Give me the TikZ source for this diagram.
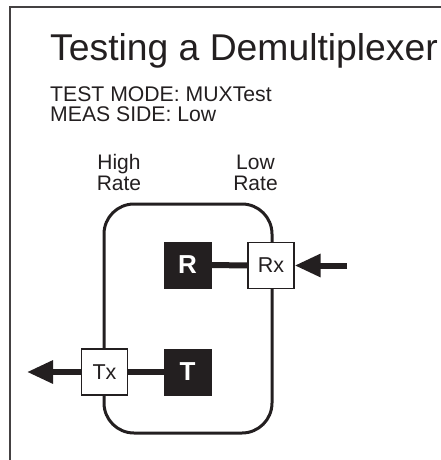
\documentclass[tikz,border=0pt]{standalone}
\usepackage{fontspec}
\setmainfont{Liberation Sans}
\usetikzlibrary{arrows.meta}
\definecolor{ink}{HTML}{231F20}
\tikzset{
  fs/.style={font=\fontsize{#1}{#1}\selectfont},
  label text/.style={text=ink, inner sep=0pt, anchor=base west},
  rate text/.style={text=ink, inner sep=0pt, anchor=base, font=\fontsize{21}{21}\selectfont},
  darkbox/.style={draw=ink, fill=ink, text=white, minimum width=47pt, minimum height=46pt,
                  inner sep=0pt, font=\fontsize{26}{26}\selectfont\bfseries},
  portbox/.style={draw=ink, fill=white, text=ink, line width=1.3pt, minimum width=46pt,
                  minimum height=46pt, inner sep=0pt, font=\fontsize{21.5}{21.5}\selectfont},
  wire/.style={draw=ink, line width=6pt},
  sigarrow/.style={draw=ink, line width=6pt, -{Triangle[length=26pt,width=22pt]}},
}
\begin{document}
\begin{tikzpicture}[x=1pt, y=-1pt]
  \useasboundingbox (0,0) rectangle (441,460);
  % frame on the top and left sides
  \draw[ink!85, line width=2pt] (10,460) -- (10,7) -- (441,7);

  % headings
  \node[label text, fs=37.3] (title) at (50,60) {Testing a Demultiplexer};
  \node[label text, fs=21.2] (mode) at (50,101.7) {TEST MODE: MUXTest};
  \node[label text, fs=21.2] (side) at (50,121.7) {MEAS SIDE: Low};

  % rate labels
  \node[rate text] (high) at (119,169) {High};
  \node[rate text] (highrate) at (119,190) {Rate};
  \node[rate text] (low) at (255.5,169) {Low};
  \node[rate text] (lowrate) at (255.5,190) {Rate};

  % demultiplexer body
  \draw[ink, line width=3pt, rounded corners=30pt] (104,204) rectangle (272,433);

  % receiver and transmitter blocks
  \node[darkbox] (R) at (187.5,265) {R};
  \node[darkbox] (T) at (187.5,372) {T};
  \node[portbox] (Rx) at (271,265.5) {Rx};
  \node[portbox] (Tx) at (104.5,372) {Tx};

  \coordinate (inEnd) at (347,265.5);
  \coordinate (outEnd) at (27,372);

  \draw[wire] (R.east) -- (Rx.west);
  \draw[wire] (Tx.east) -- (T.west);
  \draw[sigarrow] (inEnd) -- (Rx.east);
  \draw[sigarrow] (Tx.west) -- (outEnd);
\end{tikzpicture}
\end{document}
